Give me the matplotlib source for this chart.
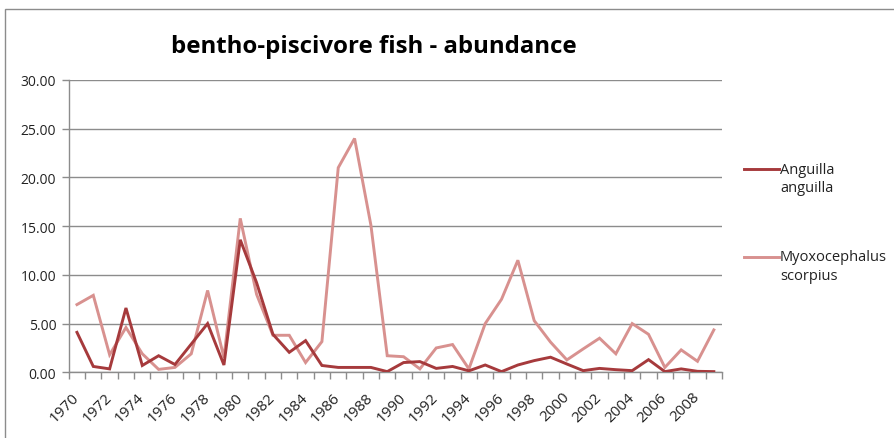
import matplotlib
matplotlib.use("Agg")
import matplotlib.pyplot as plt
from matplotlib.lines import Line2D
from matplotlib.patches import Rectangle

years = list(range(1970, 2010))

anguilla = [4.1, 0.6, 0.35, 6.6, 0.7, 1.7, 0.8, 2.9, 5.0, 0.75,
            13.6, 9.2, 3.9, 2.05, 3.25, 0.7, 0.5, 0.5, 0.5, 0.07,
            1.0, 1.1, 0.4, 0.6, 0.15, 0.75, 0.07, 0.75, 1.2, 1.55,
            0.85, 0.17, 0.4, 0.27, 0.17, 1.3, 0.07, 0.35, 0.1, 0.07]

myoxocephalus = [6.95, 7.9, 1.8, 4.6, 1.9, 0.3, 0.5, 1.9, 8.4, 1.5,
                 15.8, 8.0, 3.8, 3.8, 1.0, 3.15, 21.0, 24.0, 15.1, 1.7,
                 1.6, 0.35, 2.5, 2.85, 0.35, 5.0, 7.5, 11.5, 5.3, 3.1,
                 1.27, 2.4, 3.5, 1.9, 5.0, 3.9, 0.5, 2.3, 1.13, 4.35]

series_names = ["Anguilla\nanguilla", "Myoxocephalus\nscorpius"]
series_colors = ["#A63A3C", "#D8918F"]
title = "bentho-piscivore fish - abundance"
y_ticks = [0, 5, 10, 15, 20, 25, 30]

W, H = 894, 439
plt.rcParams["font.family"] = ["Open Sans", "DejaVu Sans"]
fig = plt.figure(figsize=(W / 100, H / 100), dpi=100)
fig.patch.set_facecolor("white")

def fx(px):
    return px / W

def fy(py):
    return 1 - py / H

ax = fig.add_axes([fx(68.8), fy(373.3), fx(722) - fx(68.8), fy(81) - fy(373.3)])

idx = list(range(len(years)))
ax.plot(idx, anguilla, color=series_colors[0], lw=2.1, solid_joinstyle="miter", zorder=3)
ax.plot(idx, myoxocephalus, color=series_colors[1], lw=2.1, solid_joinstyle="miter", zorder=2)

ax.set_xlim(-0.5, len(years) - 0.5)
ax.set_ylim(0, 30)

grid_color = "#8C8C8C"
ax.set_yticks(y_ticks)
ax.set_yticklabels([f"{v:.2f}" for v in y_ticks], fontsize=10, color="#222222")
ax.yaxis.grid(True, color=grid_color, lw=1.0)
ax.set_axisbelow(True)
ax.tick_params(axis="y", length=5, width=1.0, color=grid_color, pad=4)

# category ticks sit between the years, labels every second year
ax.set_xticks([i - 0.5 for i in range(len(years) + 1)], minor=True)
ax.set_xticks(idx[::2])
ax.set_xticklabels([str(y) for y in years[::2]], rotation=45, ha="right", va="center",
                   rotation_mode="anchor", fontsize=11, color="#222222")
ax.tick_params(axis="x", which="major", length=0, pad=16)
ax.tick_params(axis="x", which="minor", length=5, width=1.0, color=grid_color)

for side in ["top", "right"]:
    ax.spines[side].set_visible(False)
for side in ["left", "bottom"]:
    ax.spines[side].set_color(grid_color)
    ax.spines[side].set_linewidth(1.0)

fig.text(fx(374), fy(47), title, fontsize=17.3, fontweight="bold",
         ha="center", va="center", color="black")

# legend on the right
legend_rows = [170, 258]
for name, color, ly in zip(series_names, series_colors, legend_rows):
    fig.add_artist(Line2D([fx(744), fx(779)], [fy(ly), fy(ly)], color=color, lw=2.1,
                          transform=fig.transFigure))
    first, second = name.split("\n")
    fig.text(fx(780), fy(ly), first, fontsize=10.5, ha="left", va="center", color="#222222")
    fig.text(fx(780), fy(ly + 19), second, fontsize=10.5, ha="left", va="center", color="#222222")

# chart frame
fig.add_artist(Rectangle((fx(5), fy(470)), fx(960) - fx(5), fy(10) - fy(470),
                         transform=fig.transFigure, fill=False, edgecolor="#8C8C8C", lw=1.0))

fig.savefig("out.png", dpi=100)
